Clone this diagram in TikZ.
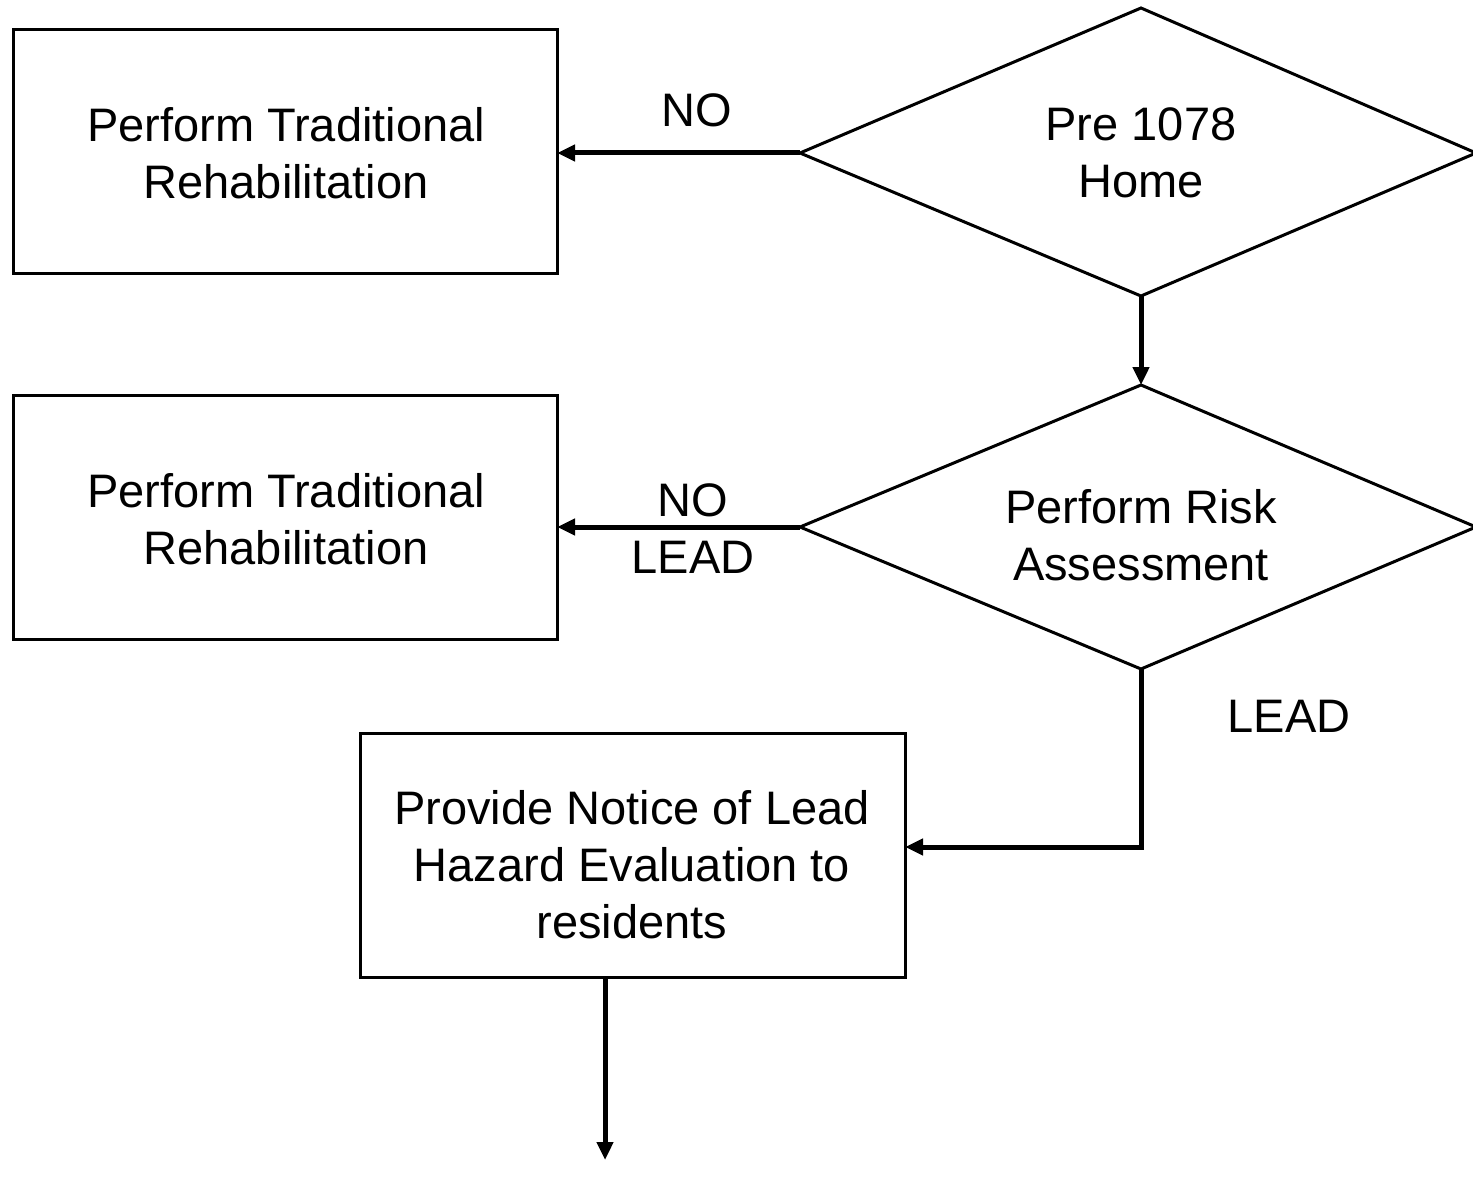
\documentclass[tikz,border=0pt]{standalone}
\usepackage{fontspec}
\setmainfont{Liberation Sans}
\usetikzlibrary{arrows.meta}
\begin{document}
\begin{tikzpicture}[x=1pt,y=-1pt,
  every node/.style={font=\fontsize{47}{57}\selectfont, align=center, inner sep=0pt},
  boxstyle/.style={draw, line width=3pt, rectangle},
  decision/.style={draw, line width=3pt, line join=miter},
  flow/.style={line width=5pt, -{Triangle[length=18pt,width=16pt]}},
  tag/.style={}]
\useasboundingbox (0,0) rectangle (1473,1185);

% process boxes
\draw[boxstyle] (13,30) rectangle (557,274);
\node (b1) at (286,153) {Perform Traditional\\Rehabilitation};
\coordinate (b1r) at (557,153);

\draw[boxstyle] (13,395) rectangle (557,639);
\node (b2) at (286,519) {Perform Traditional\\Rehabilitation};
\coordinate (b2r) at (557,527);

\draw[boxstyle] (360,733) rectangle (905,977);
\node (b3) at (632,865) {Provide Notice of Lead\\Hazard Evaluation to\\residents};
\coordinate (b3r) at (905,847);
\coordinate (b3b) at (605,977);

% decisions
\coordinate (d1l) at (800,153);
\coordinate (d1t) at (1141,8);
\coordinate (d1r) at (1476,153);
\coordinate (d1b) at (1141,296);
\draw[decision] (d1l) -- (d1t) -- (d1r) -- (d1b) -- cycle;
\node (d1) at (1141,153) {Pre 1078\\Home};

\coordinate (d2l) at (800,527);
\coordinate (d2t) at (1141,385);
\coordinate (d2r) at (1476,527);
\coordinate (d2b) at (1141,669);
\draw[decision] (d2l) -- (d2t) -- (d2r) -- (d2b) -- cycle;
\node (d2) at (1141,535) {Perform Risk\\Assessment};

% connectors
\coordinate (turn) at (1141,847);
\coordinate (endpt) at (605,1160);
\draw[flow] (d1l) -- (b1r);
\draw[flow] (d1b) -- (d2t);
\draw[flow] (d2l) -- (b2r);
\draw[flow] (d2b) -- (turn) -- (b3r);
\draw[flow] (b3b) -- (endpt);

% labels
\node[tag] (l1) at (697,110) {NO};
\node[tag] (l2) at (693,529) {NO\\LEAD};
\node[tag] (l3) at (1289,716) {LEAD};
\end{tikzpicture}
\end{document}
